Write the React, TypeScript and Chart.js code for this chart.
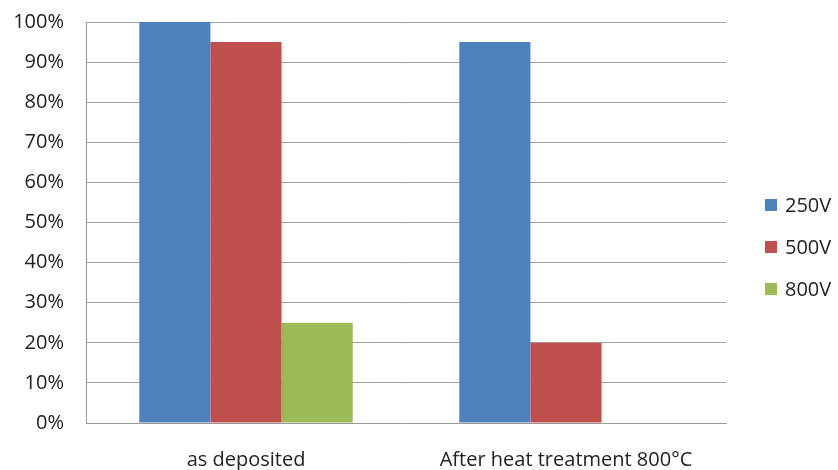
import React, { useEffect, useRef } from "react";
import { Chart, registerables } from "chart.js";

Chart.register(...registerables);

const categories = ["as deposited", "After heat treatment 800°C"];
const seriesNames = ["250V", "500V", "800V"];
const values250V = [100, 95];
const values500V = [95, 20];
const values800V = [25, 0];
const yTicks = [0, 10, 20, 30, 40, 50, 60, 70, 80, 90, 100];

const colors = ["#4F81BD", "#C0504D", "#9BBB59"];
const FONT = "'Open Sans', sans-serif";

// Legend drawn at the right side, stacked vertically.
const sideLegend = {
  id: "sideLegend",
  afterDraw(chart: any) {
    const ctx = chart.ctx;
    const ds = chart.data.datasets;
    ctx.save();
    ctx.font = `20px ${FONT}`;
    ctx.textBaseline = "middle";
    ctx.textAlign = "left";
    const x0 = 765;
    const yc = 247;
    const gap = 42;
    ds.forEach((d: any, i: number) => {
      const y = yc + (i - (ds.length - 1) / 2) * gap;
      ctx.fillStyle = d.backgroundColor;
      ctx.fillRect(x0, y - 6, 12, 12);
      ctx.fillStyle = "#222";
      ctx.fillText(d.label, x0 + 20, y + 1);
    });
    ctx.restore();
  },
};

export default function App() {
  const ref = useRef<HTMLCanvasElement>(null);
  useEffect(() => {
    if (!ref.current) return;
    const chart = new Chart(ref.current, {
      type: "bar",
      data: {
        labels: categories,
        datasets: [values250V, values500V, values800V].map((v, i) => ({
          label: seriesNames[i],
          data: v,
          backgroundColor: colors[i],
          borderWidth: 0,
          categoryPercentage: 0.667,
          barPercentage: 1,
        })),
      },
      options: {
        responsive: false,
        animation: false,
        layout: { padding: { top: 22, right: 112, left: 0, bottom: 0 } },
        plugins: { legend: { display: false }, tooltip: { enabled: false } },
        scales: {
          x: {
            grid: { display: false, drawTicks: false },
            border: { display: true, color: "#999", width: 1 },
            ticks: { color: "#222", font: { family: FONT, size: 20 }, padding: 25 },
            afterFit: (s: any) => { s.height = 47; },
          },
          y: {
            min: 0,
            max: 100,
            afterBuildTicks: (s: any) => { s.ticks = yTicks.map((v) => ({ value: v })); },
            grid: {
              color: "#a0a0a0",
              lineWidth: 1,
              drawTicks: true,
              tickLength: 22,
              tickColor: "rgba(0,0,0,0)",
            },
            border: { display: true, color: "#999", width: 1 },
            ticks: {
              color: "#222",
              font: { family: FONT, size: 20 },
              padding: 0,
              callback: (v: any) => `${v}%`,
            },
            afterFit: (s: any) => { s.width = 86; },
          },
        },
      },
      plugins: [sideLegend],
    });
    return () => chart.destroy();
  }, []);
  return (
    <div style={{ position: "fixed", left: 0, top: 0, width: 838, height: 470, background: "#fff" }}>
      <canvas ref={ref} width={838} height={470} />
    </div>
  );
}
